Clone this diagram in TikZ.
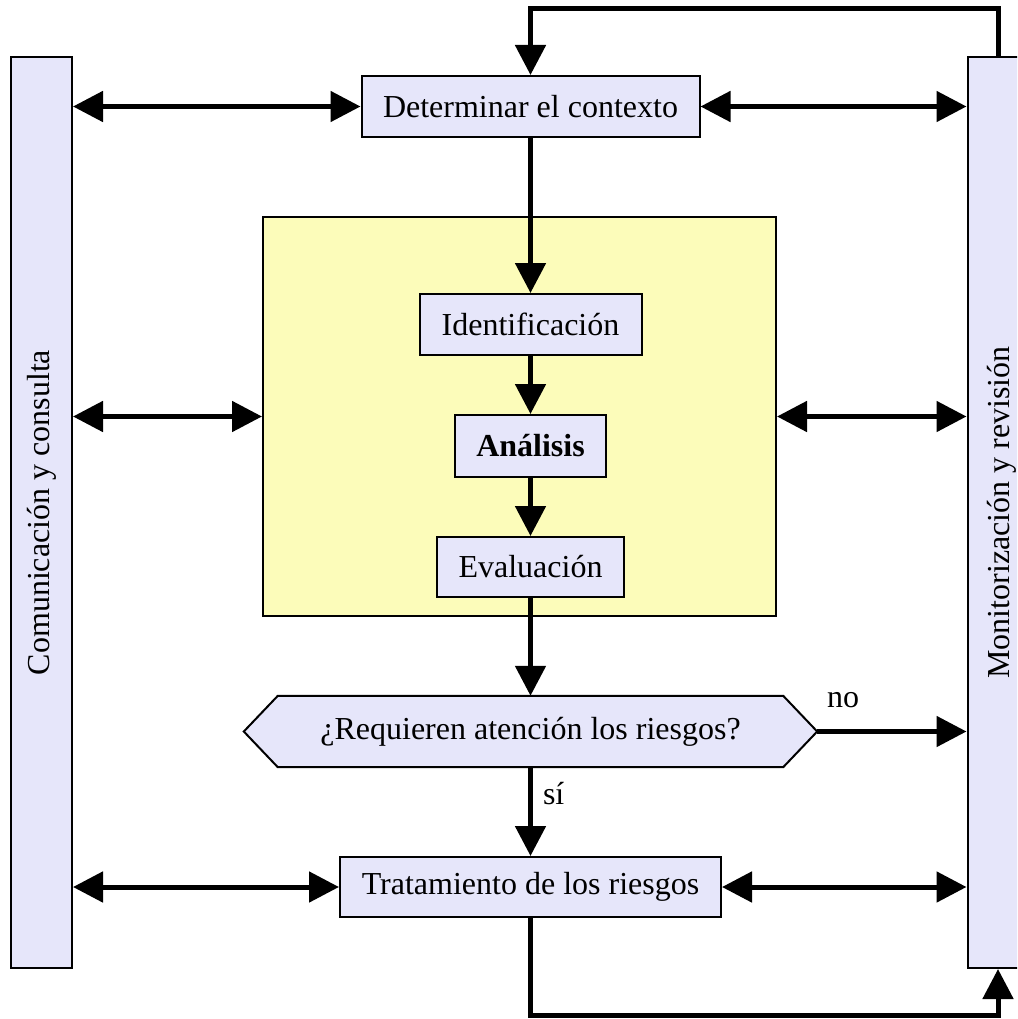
\documentclass[tikz,border=0pt]{standalone}
\usepackage{fontspec}
\setmainfont{Liberation Serif}
\usetikzlibrary{arrows.meta,calc}
\definecolor{boxfill}{HTML}{E6E6FA}
\definecolor{zonefill}{HTML}{FCFCBA}
\begin{document}
\begin{tikzpicture}[x=1pt,y=-1pt,
  every node/.style={font=\fontsize{32}{38}\selectfont, inner sep=0pt},
  stepbox/.style={draw=black, line width=2pt, fill=boxfill, minimum width=#1, minimum height=61pt},
  sidebar/.style={draw=black, line width=2pt, fill=boxfill, minimum width=61pt, minimum height=911pt},
  flow/.style={line width=5pt, -{Triangle[length=30pt,width=30pt]}},
  both/.style={line width=5pt, {Triangle[length=30pt,width=30pt]}-{Triangle[length=30pt,width=30pt]}}]
\useasboundingbox (0,0) rectangle (1017,1019);
\clip (0,0) rectangle (1017,1019);

% side bars
\node[sidebar] (cc) at (41.5,512.5) {};
\node[rotate=90] at (42,512.5) {Comunicación y consulta};
\node[sidebar] (mr) at (998,512.5) {};
\node[rotate=90] at (1002,512.5) {Monitorización y revisión};

% risk assessment zone
\node[draw=black, line width=2pt, fill=zonefill, minimum width=513pt, minimum height=399pt] (zone) at (519.5,416.5) {};

% process steps
\node[stepbox=338pt] (det) at (530.5,106.5) {Determinar el contexto};
\node[stepbox=222pt] (id) at (530.5,324.5) {Identificación};
\node[stepbox=151pt, minimum height=62pt] (an) at (530.5,446) {\bfseries Análisis};
\node[stepbox=187pt, minimum height=60pt] (ev) at (530.5,567) {Evaluación};
\node[stepbox=381pt, minimum height=60pt] (tr) at (530.5,887) {Tratamiento de los riesgos};

% decision
\node[minimum width=573pt, minimum height=71pt] (q) at (530.5,731.5) {¿Requieren atención los riesgos?};
\draw[line width=2pt, fill=boxfill]
  (q.west) -- ($(q.north west)+(34,0)$) -- ($(q.north east)+(-34,0)$) -- (q.east)
  -- ($(q.south east)+(-34,0)$) -- ($(q.south west)+(34,0)$) -- cycle;
\node at (q) {¿Requieren atención los riesgos?};

% main flow
\draw[flow] (det.south) -- (id.north);
\draw[flow] (id.south) -- (an.north);
\draw[flow] (an.south) -- (ev.north);
\draw[flow] (ev.south) -- (q.north);
\draw[flow] (q.south) -- node[right=10pt, pos=0.3] {sí} (tr.north);
\draw[flow] (q.east) -- (q.east -| mr.west);
\node at (843,700) {no};

% exchanges with the side bars
\draw[both] (det.west -| cc.east) -- (det.west);
\draw[both] (det.east) -- (det.east -| mr.west);
\draw[both] (zone.west -| cc.east) -- (zone.west);
\draw[both] (zone.east) -- (zone.east -| mr.west);
\draw[both] (tr.west -| cc.east) -- (tr.west);
\draw[both] (tr.east) -- (tr.east -| mr.west);

% feedback loops
\coordinate (topR) at (998,8.5);
\coordinate (botR) at (998,1015);
\draw[flow] (mr.north) -- (topR) -- (topR -| det.north) -- (det.north);
\draw[flow] (tr.south) -- (tr.south |- botR) -- (botR) -- (mr.south);
\end{tikzpicture}
\end{document}
